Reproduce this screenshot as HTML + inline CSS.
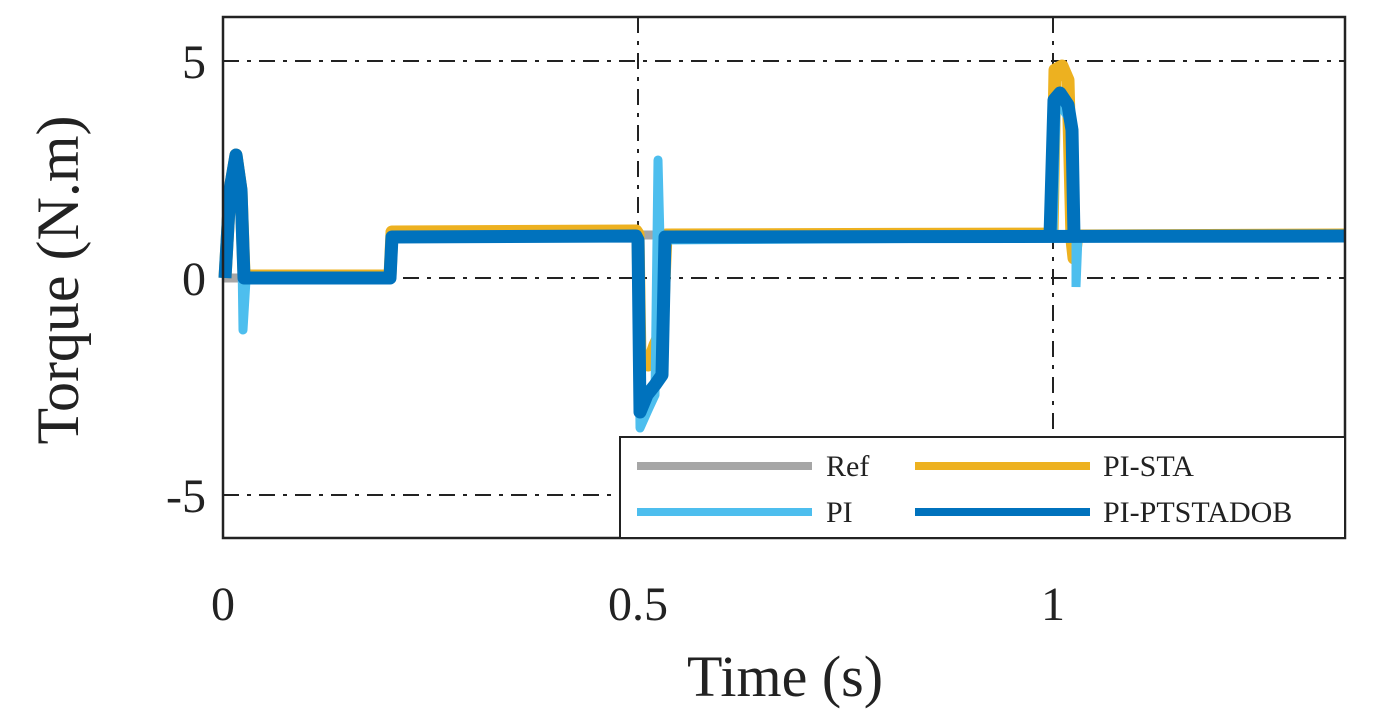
<!DOCTYPE html>
<html><head><meta charset="utf-8"><style>
html,body{margin:0;padding:0;background:#fff;}
svg{display:block;}
text{font-family:"Liberation Serif",serif;fill:#222;}
</style></head><body>
<svg width="1399" height="714" viewBox="0 0 1399 714" xmlns="http://www.w3.org/2000/svg">
<rect x="0" y="0" width="1399" height="714" fill="#fff"/>
<g stroke="#222" stroke-width="2" stroke-dasharray="16,8,4,8" fill="none">
<line x1="223" y1="61" x2="1345" y2="61"/>
<line x1="223" y1="278" x2="1345" y2="278"/>
<line x1="223" y1="495" x2="1345" y2="495"/>
<line x1="638" y1="17" x2="638" y2="538"/>
<line x1="1053" y1="17" x2="1053" y2="538"/>
</g>
<polyline fill="none" stroke="#a6a6a6" stroke-width="9" points="223,278 390,278 390,235 1345,235"/>
<polyline fill="none" stroke="#edb120" stroke-width="13" stroke-linejoin="round" points="225,278 230,190 236,155 241,190 244,274 250,276 390,276 392,232 636,231 638,234 640,360 648,365 655,345 662,330 666,235 1052,234 1055,70 1062,66 1068,80 1072,240 1074,258 1077,236 1345,235"/>
<polyline fill="none" stroke="#4dbeee" stroke-width="9" stroke-linejoin="round" points="225,278 230,190 236,155 241,190 243,330 246,280 390,280 392,237 636,236 638,240 640,428 648,410 655,395 658,160 660,240 1345,236"/>
<polyline fill="none" stroke="#4dbeee" stroke-width="9" points="1053,236 1056,110 1062,108 1070,120 1076,240 1076,287 1078,236"/>
<polyline fill="none" stroke="#0072bd" stroke-width="13" stroke-linejoin="round" points="225,278 230,190 236,155 241,190 244,278 390,278 392,237 636,236 638,240 640,412 647,395 655,385 662,375 665,237 1345,236"/>
<polyline fill="none" stroke="#0072bd" stroke-width="13" stroke-linejoin="round" points="1050,236 1054,100 1060,93 1068,105 1072,130 1074,236"/>
<rect x="223" y="17" width="1122" height="521" fill="none" stroke="#222" stroke-width="2.5"/>
<rect x="620" y="437" width="725" height="101" fill="#fff" stroke="#222" stroke-width="2"/>
<line x1="637" y1="466" x2="812" y2="466" stroke="#a6a6a6" stroke-width="8"/>
<text x="826" y="476" font-size="30">Ref</text>
<line x1="915" y1="466" x2="1090" y2="466" stroke="#edb120" stroke-width="8"/>
<text x="1103" y="476" font-size="30">PI-STA</text>
<line x1="637" y1="512" x2="812" y2="512" stroke="#4dbeee" stroke-width="8"/>
<text x="826" y="522" font-size="30">PI</text>
<line x1="915" y1="512" x2="1090" y2="512" stroke="#0072bd" stroke-width="8"/>
<text x="1103" y="522" font-size="30">PI-PTSTADOB</text>
<text x="206" y="78" font-size="48" text-anchor="end">5</text>
<text x="206" y="295" font-size="48" text-anchor="end">0</text>
<text x="206" y="512" font-size="48" text-anchor="end">-5</text>
<text x="223" y="620" font-size="48" text-anchor="middle">0</text>
<text x="638" y="620" font-size="48" text-anchor="middle">0.5</text>
<text x="1053" y="620" font-size="48" text-anchor="middle">1</text>
<text x="785" y="696" font-size="58" text-anchor="middle">Time (s)</text>
<text x="0" y="0" font-size="60" text-anchor="middle" transform="translate(78,280) rotate(-90)">Torque (N.m)</text>
</svg>
</body></html>
